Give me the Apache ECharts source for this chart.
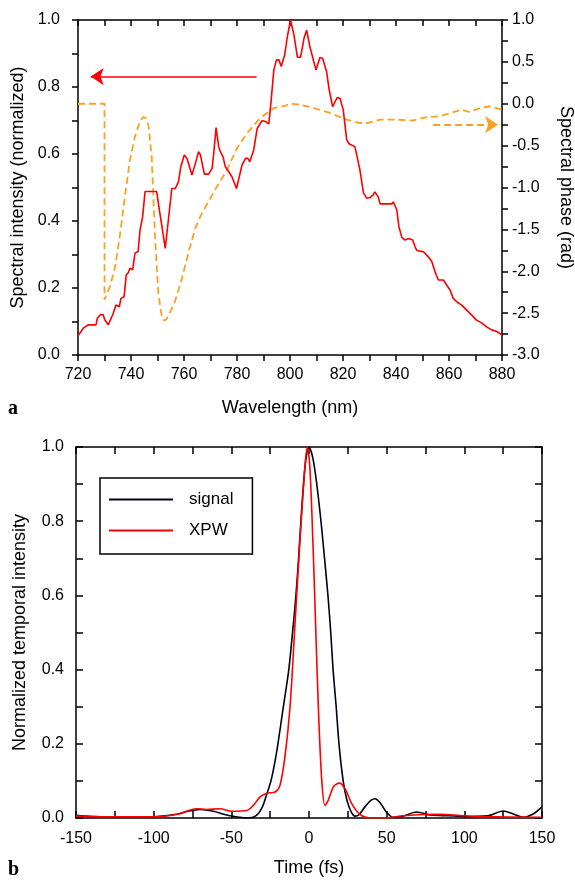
<!DOCTYPE html>
<html><head><meta charset="utf-8">
<script src="https://cdn.jsdelivr.net/npm/echarts@6/dist/echarts.min.js"></script>
<style>html,body{margin:0;padding:0;background:#fff}#c{width:575px;height:881px}</style>
</head><body><div id="c"></div>
<script>
// Panel a: spectral intensity (normalized) vs wavelength (nm)
const spectrum = [
[720,0.057],[722,0.08],[723.8,0.09],[726.8,0.09],[727.3,0.11],[728.5,0.121],[729.5,0.12],[730.1,0.105],[731.4,0.09],
[733.3,0.124],[734.3,0.149],[735.6,0.144],[736.2,0.169],[737.4,0.174],[738.2,0.239],[739,0.246],[739.6,0.259],[740.6,0.254],
[741.5,0.304],[742.7,0.309],[743.4,0.373],[744.4,0.413],[745.3,0.488],[747.8,0.488],[749.7,0.488],[750.7,0.433],[751.6,0.388],
[752.9,0.318],[754.1,0.403],[755.4,0.497],[756.7,0.497],[757.9,0.517],[758.8,0.562],[760.1,0.597],[761.1,0.587],[763,0.537],
[764.3,0.572],[765.5,0.607],[766.2,0.597],[767.7,0.54],[769.3,0.54],[770.6,0.557],[771.2,0.6],[772.1,0.679],[773.1,0.622],
[773.7,0.607],[774.7,0.592],[775.6,0.562],[776.9,0.547],[778.1,0.532],[779.8,0.497],[780.7,0.527],[781.9,0.567],[783.2,0.587],
[784.1,0.587],[784.8,0.577],[786.3,0.612],[787.6,0.676],[788.6,0.688],[789.5,0.7],[790.7,0.697],[792,0.69],[792.9,0.761],
[793.9,0.851],[794.9,0.881],[795.8,0.881],[796.7,0.861],[798,0.896],[799,0.95],[800.2,1.0],[801.5,0.955],[802.8,0.889],
[804,0.889],[805.3,0.946],[806.3,0.97],[807.5,0.92],[809.8,0.851],[811.3,0.888],[812.3,0.886],[813.8,0.846],[814.8,0.791],
[816.1,0.741],[817,0.756],[817.9,0.769],[818.9,0.766],[820.1,0.731],[821.4,0.642],[822.4,0.63],[824.5,0.622],[826.4,0.552],
[827.7,0.485],[828.9,0.468],[830.2,0.47],[831.4,0.478],[832,0.487],[833.3,0.472],[834,0.451],[836.5,0.451],[838.4,0.451],
[839,0.457],[840.3,0.433],[841.1,0.383],[842.2,0.351],[843.4,0.343],[844.7,0.348],[846.3,0.343],[847.2,0.323],[847.8,0.313],
[849.1,0.31],[850.4,0.308],[852.2,0.293],[853.5,0.279],[854.7,0.249],[856,0.224],[856.6,0.229],[857.9,0.224],[859.1,0.209],
[860.4,0.194],[861.6,0.169],[862.9,0.159],[864.8,0.149],[866.7,0.134],[868.6,0.119],[870.4,0.104],[872.3,0.096],[874.2,0.084],
[876.1,0.075],[878,0.07],[880,0.06]
];
// Panel a: spectral phase (rad)
const phase = [
[720,0],[730,0],[730,-2.34],[732.1,-2.18],[734,-1.95],[735.9,-1.55],[737.7,-1.11],[739.6,-0.67],[741.5,-0.39],[743.4,-0.21],
[744.5,-0.16],[745.6,-0.17],[746.6,-0.26],[747.8,-0.63],[749,-1.55],[750.3,-2.26],[751.6,-2.54],[752.5,-2.59],[753.4,-2.57],
[754.6,-2.5],[756.6,-2.36],[759.1,-2.1],[761.6,-1.79],[764.2,-1.49],[766.1,-1.35],[769.2,-1.17],[772.4,-0.99],[776.2,-0.79],
[780,-0.53],[783.8,-0.35],[788.8,-0.17],[793.9,-0.05],[797.7,-0.03],[800.2,0.0],[803.8,-0.01],[808.8,-0.05],[815.1,-0.11],
[821.4,-0.19],[826.4,-0.23],[829,-0.23],[834,-0.19],[840.3,-0.19],[846.5,-0.2],[851.6,-0.16],[856.6,-0.15],[861.6,-0.1],
[864.8,-0.07],[867.9,-0.1],[871.7,-0.05],[875.5,-0.03],[880,-0.07]
];
// Panel b: normalized temporal intensity vs time (fs)
const signal = [
[-150,0.007],[-140,0.004],[-128,0.003],[-110,0.003],[-98,0.004],[-85,0.01],[-78,0.018],[-70,0.023],[-61.5,0.018],[-55,0.01],
[-50.9,0.006],[-45,0.002],[-40,0.0],[-36,0.002],[-33,0.01],[-30,0.03],[-27.5,0.06],[-24.5,0.1],[-22,0.15],[-20,0.2],
[-16.5,0.3],[-13,0.4],[-10.6,0.5],[-8.4,0.6],[-6.7,0.7],[-5.2,0.8],[-2.5,0.95],[0,1.0],[2.5,0.97],[5,0.9],[7.7,0.8],
[10,0.7],[12.2,0.6],[14,0.5],[15.5,0.4],[17.5,0.3],[19.3,0.2],[22,0.1],[24.3,0.05],[27,0.018],[29.6,0.005],[32,0.008],
[36,0.03],[40,0.048],[42.5,0.052],[46,0.04],[50,0.015],[54.3,0.002],[60,0.004],[69.3,0.016],[78,0.008],[90,0.006],
[100,0.004],[115,0.006],[125,0.019],[132,0.01],[138,0.002],[144,0.01],[150,0.03]
];
const xpw = [
[-150,0.005],[-130,0.003],[-100,0.003],[-85,0.01],[-72.3,0.025],[-66,0.023],[-57.3,0.025],[-49.8,0.018],[-40.1,0.02],
[-35.8,0.034],[-31.5,0.057],[-27.2,0.067],[-21.9,0.07],[-18.7,0.088],[-15.5,0.165],[-12.2,0.3],[-9,0.524],[-5.8,0.749],
[-2.6,0.947],[-1.1,1.0],[0.3,0.96],[1.7,0.839],[3.9,0.569],[6,0.3],[8.2,0.102],[10.3,0.034],[12.4,0.048],[15.7,0.084],
[19.5,0.094],[23.2,0.079],[27.5,0.039],[32.8,0.01],[39,0.0],[50,0.0],[60.7,0.006],[84.3,0.01],[99.4,0.006],[120,0.003],[150,0.002]
];
// annotation arrows (data coordinates)
const intensityArrow = [[787.4,0.831],[724.8,0.831]];
const phaseArrow = [[854,-0.25],[878.5,-0.25]];

const FONT = 'Liberation Sans';
const BLACK = '#000';
const lineAx = {show:true, onZero:false, lineStyle:{color:BLACK, width:1.5}};
const lab = (extra) => Object.assign({color:BLACK, fontFamily:FONT, fontSize:16}, extra||{});
const fmt1 = v => Number(v).toFixed(1);
const tick = (inside, len) => ({show:true, inside:inside, length:len, lineStyle:{color:BLACK, width:1.5}});
const minor = (inside, n, len) => ({show:true, splitNumber:n, length:len, lineStyle:{color:BLACK, width:1.5}});
const nameStyle = {color:BLACK, fontFamily:FONT, fontSize:18};

const chart = echarts.init(document.getElementById('c'), null, {renderer:'canvas'});
chart.setOption({
  animation:false,
  backgroundColor:'#fff',
  title:[
    {text:'a', left:8, top:399, padding:0, textStyle:{fontFamily:'Liberation Serif', fontWeight:'bold', fontSize:20, color:BLACK}},
    {text:'b', left:8, top:860, padding:0, textStyle:{fontFamily:'Liberation Serif', fontWeight:'bold', fontSize:20, color:BLACK}}
  ],
  grid:[
    {left:78, right:73, top:20, height:335, containLabel:false, outerBoundsMode:'none'},
    {left:76, right:33, top:447, height:371, containLabel:false, outerBoundsMode:'none'}
  ],
  legend:{
    data:['signal','XPW'], orient:'vertical', left:100, top:478,
    icon:'rect', itemWidth:64, itemHeight:2, itemGap:14,
    borderColor:BLACK, borderWidth:1.5, backgroundColor:'#fff',
    padding:[13,19,15,9],
    textStyle:{color:BLACK, fontFamily:FONT, fontSize:17, lineHeight:16, padding:[0,0,0,11]}
  },
  xAxis:[
    {gridIndex:0, type:'value', position:'bottom', min:720, max:880, interval:20,
     axisLine:lineAx, axisTick:tick(false,6), minorTick:minor(false,2,6), splitLine:{show:false}, minorSplitLine:{show:false},
     axisLabel:lab({margin:12}), name:'Wavelength (nm)', nameLocation:'middle', nameGap:44, nameTextStyle:nameStyle},
    {gridIndex:0, type:'value', position:'top', min:720, max:880, interval:10,
     axisLine:lineAx, axisTick:tick(true,6), splitLine:{show:false}, axisLabel:{show:false}},
    {gridIndex:1, type:'value', position:'bottom', min:-150, max:150, interval:50,
     axisLine:lineAx, axisTick:tick(true,7), minorTick:minor(true,2,7), splitLine:{show:false}, minorSplitLine:{show:false},
     axisLabel:lab({margin:13}), name:'Time (fs)', nameLocation:'middle', nameGap:41, nameTextStyle:nameStyle},
    {gridIndex:1, type:'value', position:'top', min:-150, max:150, interval:25,
     axisLine:lineAx, axisTick:tick(true,7), splitLine:{show:false}, axisLabel:{show:false}}
  ],
  yAxis:[
    {gridIndex:0, type:'value', position:'left', min:0, max:1, interval:0.2,
     axisLine:lineAx, axisTick:tick(false,6), minorTick:minor(false,2,6), splitLine:{show:false}, minorSplitLine:{show:false},
     axisLabel:lab({margin:18, formatter:fmt1}), name:'Spectral intensity (normalized)', nameLocation:'middle', nameGap:47, nameTextStyle:nameStyle},
    {gridIndex:0, type:'value', position:'right', min:-3, max:1, interval:0.5,
     axisLine:lineAx, axisTick:tick(false,6), minorTick:minor(false,2,6), splitLine:{show:false}, minorSplitLine:{show:false},
     axisLabel:lab({margin:10, formatter:fmt1}), name:'Spectral phase (rad)', nameLocation:'middle', nameRotate:-90, nameGap:55, nameTextStyle:nameStyle},
    {gridIndex:1, type:'value', position:'left', min:0, max:1, interval:0.2,
     axisLine:lineAx, axisTick:tick(true,7), minorTick:minor(true,2,7), splitLine:{show:false}, minorSplitLine:{show:false},
     axisLabel:lab({margin:12, formatter:fmt1}), name:'Normalized temporal intensity', nameLocation:'middle', nameGap:47, nameTextStyle:nameStyle},
    {gridIndex:1, type:'value', position:'right', min:0, max:1, interval:0.1,
     axisLine:lineAx, axisTick:tick(true,7), splitLine:{show:false}, axisLabel:{show:false}}
  ],
  series:[
    {name:'intensity', type:'line', xAxisIndex:0, yAxisIndex:0, data:spectrum, symbol:'none', z:3,
     lineStyle:{color:'#ff0000', width:1.6}, itemStyle:{color:'#ff0000'},
     markLine:{silent:true, symbol:['none','arrow'], symbolSize:13, label:{show:false},
       lineStyle:{color:'#ff0000', width:1.6, type:'solid'},
       data:[[{coord:intensityArrow[0]},{coord:intensityArrow[1]}]]}},
    {name:'phase', type:'line', xAxisIndex:0, yAxisIndex:1, data:phase, symbol:'none', z:2,
     lineStyle:{color:'#ffa020', width:1.8, type:[7,4]}, itemStyle:{color:'#ffa020'},
     markLine:{silent:true, symbol:['none','arrow'], symbolSize:13, label:{show:false},
       lineStyle:{color:'#ffa020', width:1.8, type:[7,4]},
       data:[[{coord:phaseArrow[0]},{coord:phaseArrow[1]}]]}},
    {name:'signal', type:'line', xAxisIndex:2, yAxisIndex:2, data:signal, symbol:'none', smooth:0.3, z:2,
     lineStyle:{color:'#000010', width:1.6}, itemStyle:{color:'#000010'}},
    {name:'XPW', type:'line', xAxisIndex:2, yAxisIndex:2, data:xpw, symbol:'none', smooth:0.3, z:3,
     lineStyle:{color:'#ff0000', width:1.6}, itemStyle:{color:'#ff0000'}}
  ]
});
</script></body></html>
